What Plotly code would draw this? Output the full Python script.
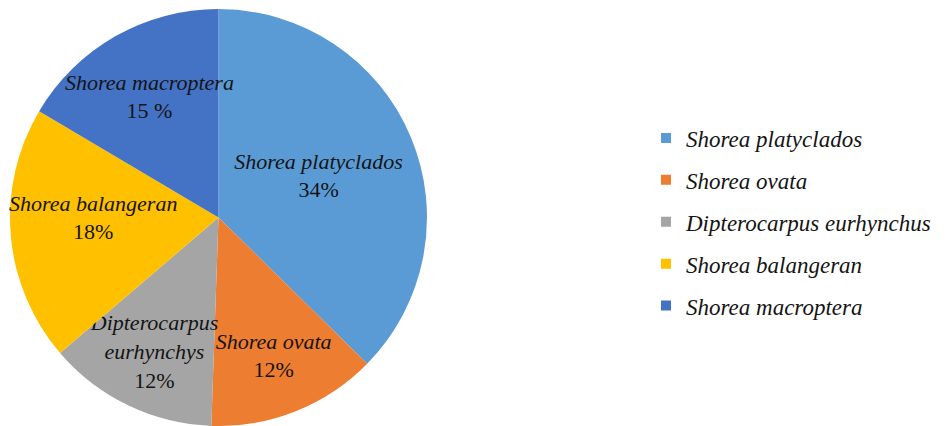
import plotly.graph_objects as go

species = ["Shorea platyclados", "Shorea ovata", "Dipterocarpus eurhynchus",
           "Shorea balangeran", "Shorea macroptera"]
slice_labels = ["Shorea platyclados", "Shorea ovata", "Dipterocarpus<br>eurhynchys",
                "Shorea balangeran", "Shorea macroptera"]
values = [34, 12, 12, 18, 15]
pct_text = ["34%", "12%", "12%", "18%", "15 %"]
colors = ["#5B9BD5", "#ED7D31", "#A5A5A5", "#FFC000", "#4472C4"]

W, H = 946, 426
FONT = "Liberation Serif"

fig = go.Figure()
fig.add_trace(go.Pie(
    labels=species,
    values=values,
    text=[f"<i>{l}</i><br>{p}" for l, p in zip(slice_labels, pct_text)],
    texttemplate="%{text}",
    textposition="inside",
    insidetextorientation="horizontal",
    sort=False,
    direction="clockwise",
    rotation=0,
    marker=dict(colors=colors, line=dict(width=0)),
    textfont=dict(family=FONT, size=22, color="#141414"),
    showlegend=False,
    hoverinfo="label+value",
    domain=dict(x=[10 / W, 427 / W], y=[1 - 426 / H, 1 - 9 / H]),
))

# legend entries (separate groups so spacing can match the reference)
for i, (name, c) in enumerate(zip(species, colors)):
    fig.add_trace(go.Scatter(
        x=[None], y=[None], mode="markers", name=f"<i>{name}</i>",
        marker=dict(symbol="square", size=10, color=c),
        legendgroup=f"g{i}", showlegend=True, hoverinfo="skip",
    ))

fig.update_layout(
    width=W, height=H,
    margin=dict(l=0, r=0, t=0, b=0),
    paper_bgcolor="white", plot_bgcolor="white",
    xaxis=dict(visible=False), yaxis=dict(visible=False),
    uniformtext=dict(minsize=22, mode="show"),
    legend=dict(
        x=646 / W, y=1 - 222 / H, xanchor="left", yanchor="middle",
        font=dict(family=FONT, size=23, color="#141414"),
        tracegroupgap=9, itemwidth=30,
        bgcolor="rgba(0,0,0,0)",
    ),
    font=dict(family=FONT),
)

fig.write_html("out.html")
